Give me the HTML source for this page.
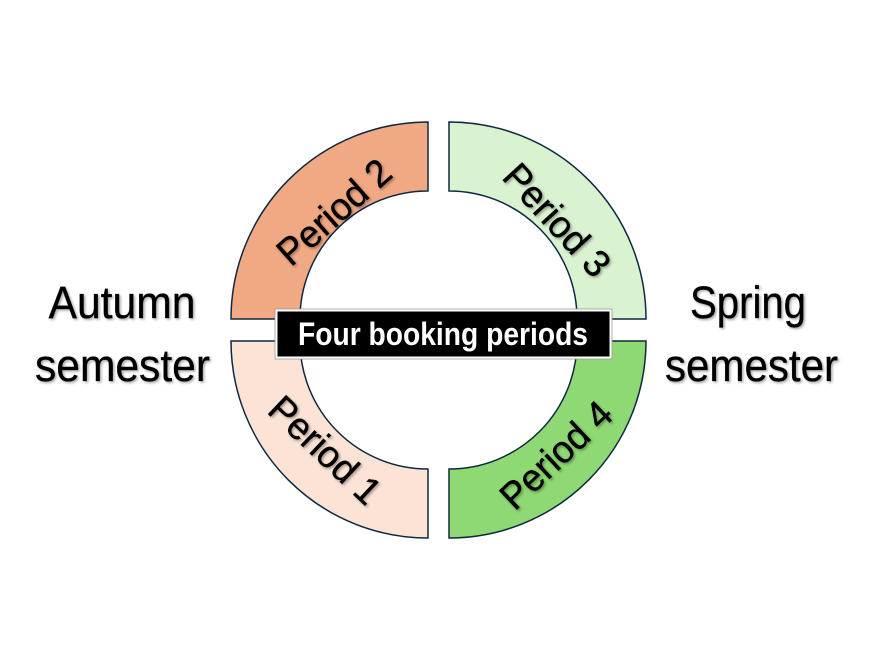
<!DOCTYPE html>
<html><head><meta charset="utf-8"><style>
html,body{margin:0;padding:0;background:#fff;}
svg{display:block;}
</style></head><body>
<svg width="880" height="660" viewBox="0 0 880 660" xmlns="http://www.w3.org/2000/svg">
<defs>
<filter id="sh" x="-20%" y="-50%" width="140%" height="200%">
<feDropShadow dx="1.5" dy="1.5" stdDeviation="1.2" flood-color="#000" flood-opacity="0.35"/>
</filter>
</defs>
<rect width="880" height="660" fill="#fff"/>
<g stroke="#0E2841" stroke-width="1.5" stroke-linejoin="miter">
<path d="M231,319 A197,197 0 0 1 428,122 L428,191 A128,128 0 0 0 300,319 Z" fill="#F1A983"/>
<path d="M449,122 A197,197 0 0 1 646,319 L577,319 A128,128 0 0 0 449,191 Z" fill="#D9F2D0"/>
<path d="M646,341 A197,197 0 0 1 449,538 L449,469 A128,128 0 0 0 577,341 Z" fill="#8ED973"/>
<path d="M428,538 A197,197 0 0 1 231,341 L300,341 A128,128 0 0 0 428,469 Z" fill="#FBE3D6"/>
</g>
<g font-family="Liberation Sans, Arial, sans-serif" font-size="38" fill="#000" stroke="#000" stroke-width="0.4" text-anchor="middle" filter="url(#sh)">
<text transform="translate(334,212) rotate(-41.5)" y="13" textLength="138" lengthAdjust="spacingAndGlyphs">Period 2</text>
<text transform="translate(557,220) rotate(47.5)" y="13" textLength="138" lengthAdjust="spacingAndGlyphs">Period 3</text>
<text transform="translate(325,450) rotate(43.4)" y="13" textLength="138" lengthAdjust="spacingAndGlyphs">Period 1</text>
<text transform="translate(556,455) rotate(-43.3)" y="13" textLength="138" lengthAdjust="spacingAndGlyphs">Period 4</text>
</g>
<rect x="275" y="309" width="337" height="50" fill="#fff" stroke="#9a9a9a" stroke-width="0.8"/>
<rect x="277.5" y="311.5" width="332" height="45" fill="#000"/>
<text x="443" y="345" font-family="Liberation Sans, Arial, sans-serif" font-weight="bold" font-size="32" fill="#fff" text-anchor="middle" textLength="290" lengthAdjust="spacingAndGlyphs">Four booking periods</text>
<g font-family="Liberation Sans, Arial, sans-serif" font-size="45" fill="#000" stroke="#000" stroke-width="0.3" text-anchor="middle" filter="url(#sh)">
<text x="122" y="318" textLength="147" lengthAdjust="spacingAndGlyphs">Autumn</text>
<text x="122.5" y="381" textLength="175" lengthAdjust="spacingAndGlyphs">semester</text>
<text x="748" y="318" textLength="116" lengthAdjust="spacingAndGlyphs">Spring</text>
<text x="751.5" y="381" textLength="173" lengthAdjust="spacingAndGlyphs">semester</text>
</g>
</svg>
</body></html>
